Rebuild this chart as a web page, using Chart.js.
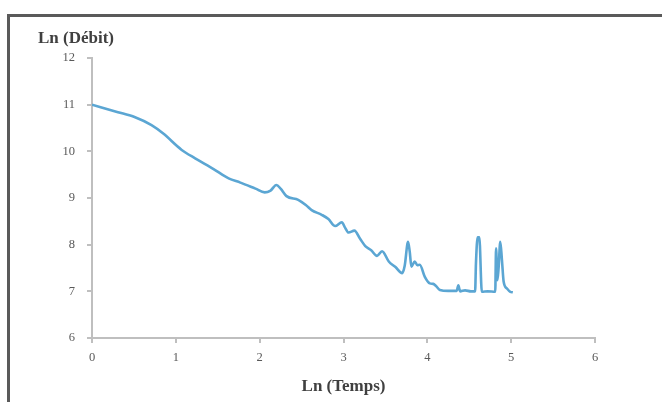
<!DOCTYPE html>
<html>
<head>
<meta charset="utf-8">
<script src="https://cdn.jsdelivr.net/npm/chart.js@4.4.1/dist/chart.umd.min.js"></script>
<style>
  html, body { margin: 0; padding: 0; background: #fff; }
  #wrap { position: relative; width: 662px; height: 402px; overflow: hidden; }
  #frame { position: absolute; left: 7px; top: 14px; width: 800px; height: 500px;
           border-top: 3px solid #5a5a5a; border-left: 3px solid #5a5a5a; }
  canvas { position: absolute; left: 0; top: 0; }
</style>
</head>
<body>
<div id="wrap">
  <div id="frame"></div>
  <canvas id="chart" width="662" height="402"></canvas>
</div>
<script>
// --- data ---
const lnTemps = [0, 0.31, 0.5, 0.71, 0.85, 1.07, 1.23, 1.45, 1.63, 1.77, 1.95, 2.06, 2.13, 2.20, 2.25,
  2.32, 2.46, 2.55, 2.62, 2.74, 2.82, 2.90, 2.98, 3.02, 3.06, 3.13, 3.20, 3.26, 3.33, 3.40,
  3.46, 3.54, 3.62, 3.70, 3.73, 3.77, 3.79, 3.81, 3.85, 3.88, 3.91, 3.97, 4.03, 4.07, 4.10,
  4.15, 4.25, 4.35, 4.37, 4.39, 4.45, 4.52, 4.57, 4.58, 4.60, 4.62, 4.65, 4.72, 4.81, 4.82,
  4.835, 4.85, 4.87, 4.89, 4.91, 4.95, 4.99, 5.02];
const lnDebit = [11.0, 10.84, 10.74, 10.56, 10.38, 10.03, 9.85, 9.62, 9.42, 9.33, 9.2, 9.12, 9.16, 9.28, 9.2,
  9.04, 8.96, 8.85, 8.74, 8.64, 8.55, 8.40, 8.48, 8.36, 8.26, 8.30, 8.12, 7.97, 7.88, 7.76,
  7.86, 7.64, 7.52, 7.39, 7.55, 8.06, 7.85, 7.53, 7.64, 7.56, 7.57, 7.31, 7.17, 7.16, 7.12,
  7.03, 7.01, 7.01, 7.13, 7.0, 7.02, 7.0, 7.0, 7.60, 8.16, 8.16, 6.99, 7.0, 6.99, 7.92,
  7.24, 7.5, 8.06, 7.67, 7.21, 7.06, 6.99, 6.98];

const xTitle = "Ln (Temps)";
const yTitle = "Ln (Débit)";

const points = lnTemps.map((t, i) => ({ x: t, y: lnDebit[i] }));

// titre de l'axe Y, posé à l'horizontale en haut à gauche
const yTitlePlugin = {
  id: "yTitle",
  afterDraw(chart) {
    const c = chart.ctx;
    c.save();
    c.font = "bold 17px 'Liberation Serif'";
    c.fillStyle = "#404040";
    c.textBaseline = "middle";
    c.fillText(yTitle, 38, 39);
    c.restore();
  }
};

const tickFont = { family: "'Liberation Serif'", size: 12.5 };

new Chart(document.getElementById("chart"), {
  type: "scatter",
  data: {
    datasets: [{
      data: points,
      showLine: true,
      borderColor: "#5ba6d3",
      borderWidth: 2.6,
      pointRadius: 0,
      cubicInterpolationMode: "monotone"
    }]
  },
  options: {
    responsive: false,
    animation: false,
    layout: { padding: { left: 38, right: 67, top: 58, bottom: 2 } },
    plugins: {
      legend: { display: false },
      tooltip: { enabled: false }
    },
    scales: {
      x: {
        min: 0, max: 6,
        ticks: { stepSize: 1, color: "#595959", font: tickFont, padding: 7 },
        grid: { drawOnChartArea: false, drawTicks: true, tickLength: 5, color: "#bfbfbf", lineWidth: 2 },
        border: { color: "#bfbfbf", width: 2 },
        title: { display: true, text: xTitle, color: "#404040",
                 font: { family: "'Liberation Serif'", size: 17, weight: "bold" }, padding: { top: 8, bottom: 3 } },
        afterFit(s) { s.height = 62; }
      },
      y: {
        min: 6, max: 12,
        ticks: { stepSize: 1, color: "#595959", font: tickFont, padding: 12 },
        grid: { drawOnChartArea: false, drawTicks: true, tickLength: 5, color: "#bfbfbf", lineWidth: 2 },
        border: { color: "#bfbfbf", width: 2 },
        afterFit(s) { s.width = 54; }
      }
    }
  },
  plugins: [yTitlePlugin]
});
</script>
</body>
</html>
